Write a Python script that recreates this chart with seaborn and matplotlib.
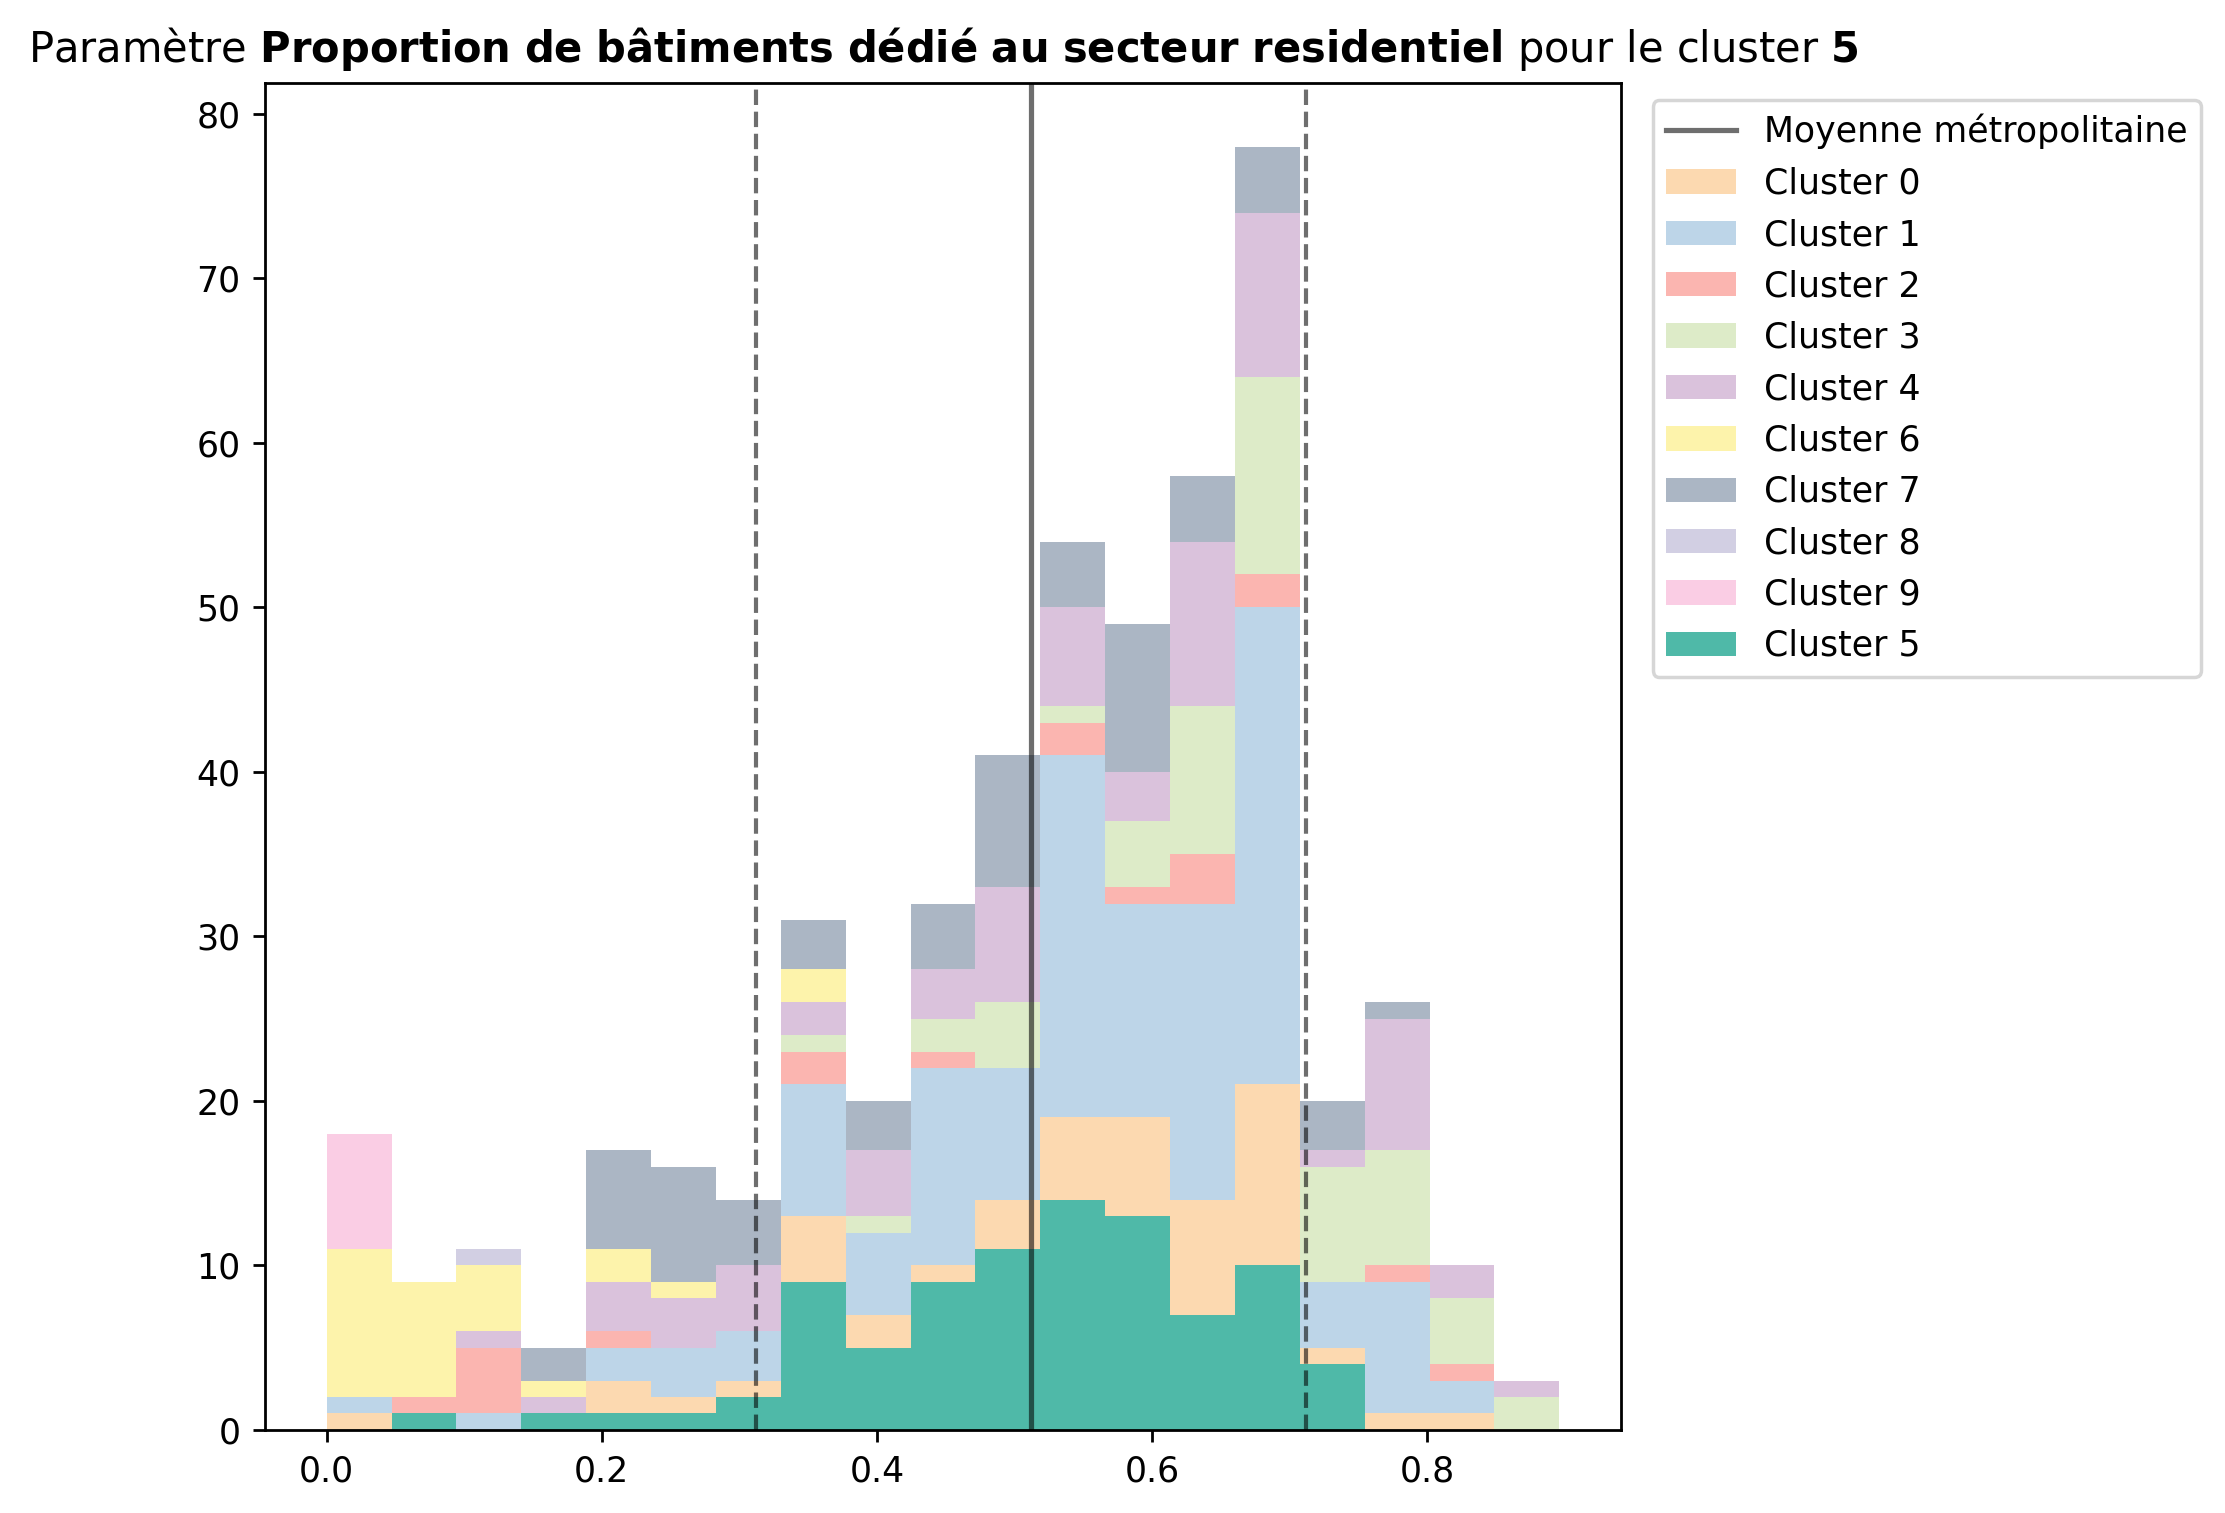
import matplotlib
import matplotlib.pyplot as plt
import numpy as np
import pandas as pd
import seaborn as sns
from matplotlib.lines import Line2D
from matplotlib.patches import Patch

matplotlib.use("agg")

# histogram bins (19 bins over the value range)
x_min, x_max, n_bins = 0.0, 0.896, 19

# counts per bin, one list per cluster
cluster_5 = [0, 1, 0, 1, 1, 1, 2, 9, 5, 9, 11, 14, 13, 7, 10, 4, 0, 0, 0]
cluster_0 = [1, 0, 0, 0, 2, 1, 1, 4, 2, 1, 3, 5, 6, 7, 11, 1, 1, 1, 0]
cluster_1 = [1, 0, 1, 0, 2, 3, 3, 8, 5, 12, 8, 22, 13, 18, 29, 4, 8, 2, 0]
cluster_2 = [0, 1, 4, 0, 1, 0, 0, 2, 0, 1, 0, 2, 1, 3, 2, 0, 1, 1, 0]
cluster_3 = [0, 0, 0, 0, 0, 0, 0, 1, 1, 2, 4, 1, 4, 9, 12, 7, 7, 4, 2]
cluster_4 = [0, 0, 1, 1, 3, 3, 4, 2, 4, 3, 7, 6, 3, 10, 10, 1, 8, 2, 1]
cluster_6 = [9, 7, 4, 1, 2, 1, 0, 2, 0, 0, 0, 0, 0, 0, 0, 0, 0, 0, 0]
cluster_7 = [0, 0, 0, 2, 6, 7, 4, 3, 3, 4, 8, 4, 9, 4, 4, 3, 1, 0, 0]
cluster_8 = [0, 0, 1, 0, 0, 0, 0, 0, 0, 0, 0, 0, 0, 0, 0, 0, 0, 0, 0]
cluster_9 = [7, 0, 0, 0, 0, 0, 0, 0, 0, 0, 0, 0, 0, 0, 0, 0, 0, 0, 0]

metro_mean = 0.512
metro_std = 0.200

param_name = "Proportion de bâtiments dédié au secteur residentiel"
cluster_id = "5"

counts = {
    "Cluster 0": cluster_0,
    "Cluster 1": cluster_1,
    "Cluster 2": cluster_2,
    "Cluster 3": cluster_3,
    "Cluster 4": cluster_4,
    "Cluster 6": cluster_6,
    "Cluster 7": cluster_7,
    "Cluster 8": cluster_8,
    "Cluster 9": cluster_9,
    "Cluster 5": cluster_5,
}

palette = {
    "Cluster 0": "#fcd9b0",
    "Cluster 1": "#bdd5e8",
    "Cluster 2": "#fbb5b0",
    "Cluster 3": "#ddebc8",
    "Cluster 4": "#dac2dc",
    "Cluster 6": "#fdf3ab",
    "Cluster 7": "#abb6c4",
    "Cluster 8": "#d2cfe3",
    "Cluster 9": "#facde4",
    "Cluster 5": "#4fb9a8",
}

edges = np.linspace(x_min, x_max, n_bins + 1)
centers = (edges[:-1] + edges[1:]) / 2

rows = []
for name, values in counts.items():
    for c, v in zip(centers, values):
        rows.append({"valeur": c, "n": v, "cluster": name})
df = pd.DataFrame(rows)

# seaborn stacks the last hue level at the bottom
stack_order = ["Cluster 9", "Cluster 8", "Cluster 7", "Cluster 6", "Cluster 4",
               "Cluster 3", "Cluster 2", "Cluster 1", "Cluster 0", "Cluster 5"]

fig = plt.figure(figsize=(8.9, 6.052), dpi=250)
ax = fig.add_axes([0.1191, 0.0549, 0.6094, 0.8905])

sns.histplot(
    data=df,
    x="valeur",
    weights="n",
    hue="cluster",
    hue_order=stack_order,
    palette=palette,
    bins=edges.tolist(),
    multiple="stack",
    element="bars",
    alpha=1,
    linewidth=0,
    legend=False,
    ax=ax,
)

ax.axvline(metro_mean, color="k", alpha=0.57, lw=1.5)
ax.axvline(metro_mean - metro_std, color="k", alpha=0.57, lw=1.2, ls="--")
ax.axvline(metro_mean + metro_std, color="k", alpha=0.57, lw=1.2, ls="--")

ax.set_xlabel("")
ax.set_ylabel("")

bold_name = param_name.replace(" ", r"\ ")
ax.set_title(f"Paramètre $\\bf{{{bold_name}}}$ pour le cluster $\\bf{{{cluster_id}}}$")

handles = [Line2D([0], [0], color="k", alpha=0.57, lw=1.5)]
labels = ["Moyenne métropolitaine"]
for name in counts:
    handles.append(Patch(facecolor=palette[name], edgecolor="none"))
    labels.append(name)
ax.legend(handles, labels, loc="upper left", bbox_to_anchor=(1.0105, 1))

fig.savefig("out.png", dpi=250)
